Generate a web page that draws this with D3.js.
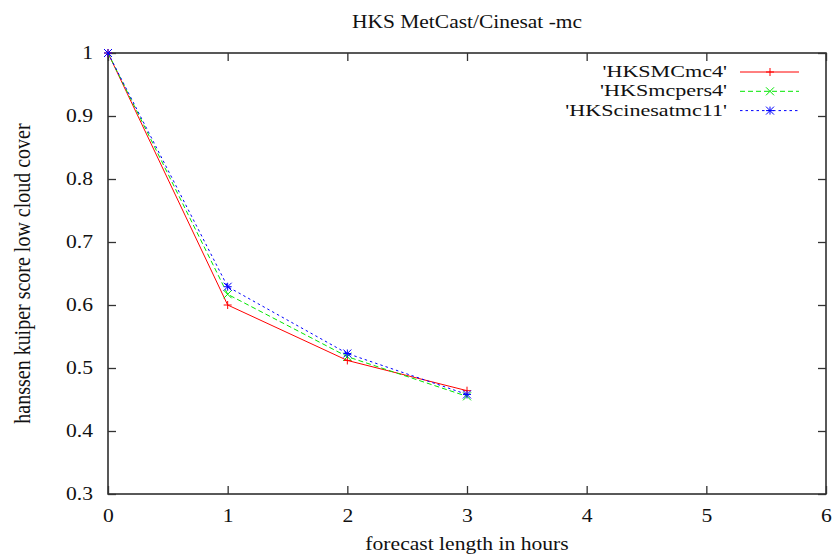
<!DOCTYPE html>
<html>
<head>
<meta charset="utf-8">
<script src="https://cdn.jsdelivr.net/npm/d3@7"></script>
<style>
  body { margin: 0; background: #fff; }
</style>
</head>
<body>
<div id="chart"></div>
<script>
// forecast hours and HKS values
const hours = [0, 1, 2, 3];
const hksMCmc4 = [1.0, 0.600, 0.512, 0.464];
const hksMcpers4 = [1.0, 0.617, 0.518, 0.455];
const hksCinesatmc11 = [1.0, 0.629, 0.523, 0.458];
const seriesNames = ["'HKSMCmc4'", "'HKSmcpers4'", "'HKScinesatmc11'"];
const xTicks = [0, 1, 2, 3, 4, 5, 6];
const yTicks = [0.3, 0.4, 0.5, 0.6, 0.7, 0.8, 0.9, 1];

const FONT = '"Liberation Serif", "Times New Roman", serif';
const STRETCH = 1.2; // the reference glyphs are a bit wide
const width = 835, height = 554;
const margin = { top: 53, right: 9, bottom: 60, left: 108 };

const svg = d3.select('#chart').append('svg')
  .attr('width', width)
  .attr('height', height);

const x = d3.scaleLinear().domain([0, 6]).range([margin.left, width - margin.right]);
const y = d3.scaleLinear().domain([0.3, 1]).range([height - margin.bottom, margin.top]);

// small helper so every label gets the serif face
function label(sel, size) {
  return sel.style('font-family', FONT).style('font-size', size + 'px').style('fill', '#111');
}

// frame
svg.append('rect')
  .attr('x', x(0)).attr('y', y(1))
  .attr('width', x(6) - x(0)).attr('height', y(0.3) - y(1))
  .style('fill', 'none').style('stroke', '#222').style('stroke-width', 1.5);

// ticks (inward, mirrored on top/right)
const tickLen = 8;
const bottomAxis = svg.append('g').attr('transform', `translate(0,${y(0.3)})`)
  .call(d3.axisBottom(x).tickValues(xTicks).tickSize(-tickLen).tickPadding(15.5).tickFormat(d3.format('d')));
const topAxis = svg.append('g').attr('transform', `translate(0,${y(1)})`)
  .call(d3.axisTop(x).tickValues(xTicks).tickSize(-tickLen).tickFormat(''));
const leftAxis = svg.append('g').attr('transform', `translate(${x(0)},0)`)
  .call(d3.axisLeft(y).tickValues(yTicks).tickSize(-tickLen).tickPadding(12.5).tickFormat(d => d === 1 ? '1' : d3.format('.1f')(d)));
const rightAxis = svg.append('g').attr('transform', `translate(${x(6)},0)`)
  .call(d3.axisRight(y).tickValues(yTicks).tickSize(-tickLen).tickFormat(''));

[bottomAxis, topAxis, leftAxis, rightAxis].forEach(a => {
  a.select('.domain').remove();
  a.selectAll('.tick line').style('stroke', '#333').style('stroke-width', 1.3);
  label(a.selectAll('.tick text'), 18).attr('transform', `scale(${STRETCH},1)`);
});

// titles
label(svg.append('text'), 19)
  .attr('transform', `translate(467,28) scale(1.13,1)`)
  .attr('text-anchor', 'middle')
  .text('HKS MetCast/Cinesat -mc');

label(svg.append('text'), 18)
  .attr('transform', `translate(467,550) scale(${STRETCH},1)`)
  .attr('text-anchor', 'middle')
  .text('forecast length in hours');

label(svg.append('text'), 20)
  .attr('transform', `translate(30,${(y(1) + y(0.3)) / 2}) scale(${STRETCH},1) rotate(-90)`)
  .attr('text-anchor', 'middle')
  .text('hanssen kuiper score low cloud cover');

// series
const series = [
  { name: seriesNames[0], values: hksMCmc4, color: '#ff0000', dash: null, marker: 'plus' },
  { name: seriesNames[1], values: hksMcpers4, color: '#00e600', dash: '5,3', marker: 'cross' },
  { name: seriesNames[2], values: hksCinesatmc11, color: '#0000ff', dash: '2.5,3', marker: 'star' }
];

const line = d3.line()
  .x((d, i) => x(hours[i]))
  .y(d => y(d));

function drawMarker(g, type, cx, cy, color) {
  const s = 4;
  const segs = [];
  if (type === 'plus' || type === 'star') {
    segs.push([cx - s, cy, cx + s, cy], [cx, cy - s, cx, cy + s]);
  }
  if (type === 'cross' || type === 'star') {
    segs.push([cx - s, cy - s, cx + s, cy + s], [cx - s, cy + s, cx + s, cy - s]);
  }
  segs.forEach(sg => {
    g.append('line')
      .attr('x1', sg[0]).attr('y1', sg[1]).attr('x2', sg[2]).attr('y2', sg[3])
      .style('stroke', color).style('stroke-width', 1);
  });
}

series.forEach((s, k) => {
  svg.append('path')
    .datum(s.values)
    .attr('d', line)
    .style('fill', 'none')
    .style('stroke', s.color)
    .style('stroke-width', 1)
    .style('stroke-dasharray', s.dash);
  const mg = svg.append('g');
  s.values.forEach((v, i) => drawMarker(mg, s.marker, x(hours[i]), y(v), s.color));

  // legend
  const ly = 72 + k * 19.3;
  label(svg.append('text'), 17)
    .attr('transform', `translate(727,${ly + 5}) scale(1.3,1)`)
    .attr('text-anchor', 'end')
    .text(s.name);
  svg.append('line')
    .attr('x1', 740).attr('x2', 799).attr('y1', ly).attr('y2', ly)
    .style('stroke', s.color).style('stroke-width', 1)
    .style('stroke-dasharray', s.dash);
  drawMarker(svg, s.marker, 770, ly, s.color);
});
</script>
</body>
</html>
